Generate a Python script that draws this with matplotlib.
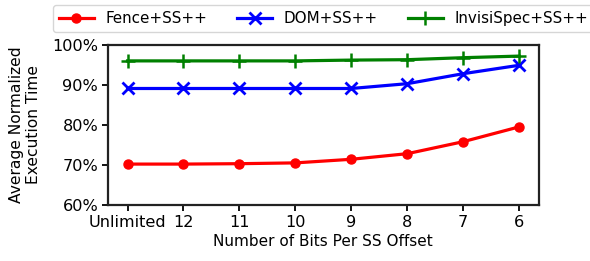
import numpy as np
import matplotlib
matplotlib.use('Agg')
import matplotlib.pyplot as plt
from matplotlib.ticker import FuncFormatter

# Dados
rotulos_x = ['Unlimited', '12', '11', '10', '9', '8', '7', '6']
fence = [70.2, 70.2, 70.3, 70.5, 71.4, 72.8, 75.8, 79.5]
dom = [89.1, 89.1, 89.1, 89.1, 89.1, 90.3, 92.8, 94.9]
invisispec = [96.0, 96.0, 96.0, 96.0, 96.2, 96.3, 96.8, 97.2]

fig, ax = plt.subplots(figsize=(5.9, 2.61), dpi=100)
x = np.arange(len(rotulos_x))

ax.plot(x, fence, color='red', marker='o', markersize=6.5, linewidth=2.3, label='Fence+SS++')
ax.plot(x, dom, color='blue', marker='x', markersize=9, markeredgewidth=2, linewidth=2.3, label='DOM+SS++')
ax.plot(x, invisispec, color='green', marker='+', markersize=10, markeredgewidth=1.8, linewidth=2.3, label='InvisiSpec+SS++')

ax.set_ylim(60, 100)
ax.set_yticks([60, 70, 80, 90, 100])
ax.yaxis.set_major_formatter(FuncFormatter(lambda v, p: '%d%%' % v))
ax.set_xticks(x)
ax.set_xticklabels(rotulos_x)
ax.set_xlim(-0.35, 7.35)
ax.tick_params(labelsize=11.6, length=4, width=1.3, pad=3)

ax.set_xlabel('Number of Bits Per SS Offset', fontsize=11, labelpad=3)
ax.set_ylabel('Average Normalized\nExecution Time', fontsize=11.2, labelpad=8)

for s in ax.spines.values():
    s.set_linewidth(1.6)
    s.set_color('#222222')

ax.legend(loc='lower left', bbox_to_anchor=(-0.1276, 1.081), ncol=3, fontsize=10.9,
          handlelength=2.3, handletextpad=0.75, columnspacing=2.0,
          borderaxespad=0)

plt.subplots_adjust(left=0.183, right=0.913, top=0.828, bottom=0.215)
plt.savefig('out.png', dpi=100)
